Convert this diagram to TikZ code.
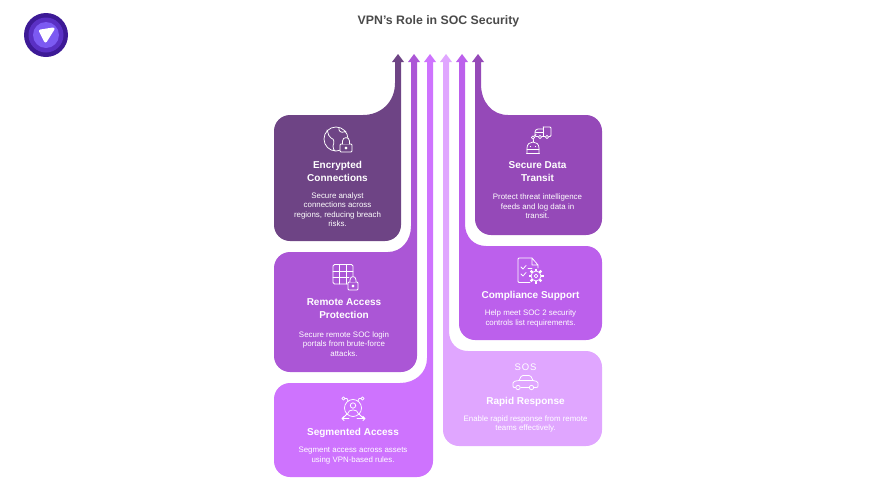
\documentclass[tikz,border=0pt]{standalone}
\usepackage{fontspec}
\setmainfont{Liberation Sans}
\newfontfamily\sosfont[LetterSpace=9]{Liberation Sans}
\usepackage{xcolor}
\definecolor{cardone}{HTML}{6E4485}
\definecolor{cardtwo}{HTML}{AB56D6}
\definecolor{cardthree}{HTML}{CE73FE}
\definecolor{cardfour}{HTML}{9549B8}
\definecolor{cardfive}{HTML}{BC60EC}
\definecolor{cardsix}{HTML}{E0A6FF}
\definecolor{titlegray}{HTML}{4A4A4A}
\definecolor{logoa}{HTML}{3D1A96}
\definecolor{logob}{HTML}{5A30C4}
\definecolor{logoc}{HTML}{7C5AF2}
\begin{document}
\begin{tikzpicture}[
		x=1pt,
		y=-1pt,
		heading/.style={
			text=white,
			align=center,
			inner sep=0pt,
			font=\bfseries\fontsize{10}{13}\selectfont
		},
		blurb/.style={
			text=white,
			align=center,
			inner sep=0pt,
			font=\fontsize{7.9}{9.5}\selectfont
		},
		icon/.style={
			draw=white,
			line width=0.75pt,
			line cap=round,
			line join=round
		}
		]
		\useasboundingbox (0,0) rectangle (876,493);
		
		% We start by placing the title and the logo
		\node [text=titlegray, inner sep=0pt, font=\bfseries\fontsize{12.3}{15}\selectfont] (title) at (438.5,21) {VPN's Role in SOC Security};
		
		\fill [logoa] (46,35) circle (22);
		\fill [logob] (46,35) circle (17.5);
		\fill [logoc] (46,35) circle (13);
		\fill [white, draw=white, line width=3pt, line join=round] (40.5,31) -- (53,29) -- (45.5,41) -- cycle;
		
		% The blocks with their arrows, left side
		\fill [cardone] (363,115) [rounded corners=16pt] -- (274,115) -- (274,241) -- (401,241) -- (401,200) [sharp corners]
			-- (401,62) -- (404,62) -- (398,54) -- (392,62) -- (395,62) -- (395,83)
			.. controls (395,102) and (381,115) .. (363,115) -- cycle;
		
		\fill [cardtwo] (388,252) [rounded corners=16pt] -- (274,252) -- (274,372) -- (417,372) -- (417,320) [sharp corners]
			-- (417,62) -- (420,62) -- (414,54) -- (408,62) -- (411,62) -- (411,226)
			.. controls (411,241) and (401,252) .. (388,252) -- cycle;
		
		\fill [cardthree] (400,383) [rounded corners=16pt] -- (274,383) -- (274,477) -- (433,477) -- (433,420) [sharp corners]
			-- (433,62) -- (436,62) -- (430,54) -- (424,62) -- (427,62) -- (427,358)
			.. controls (427,373) and (415,383) .. (400,383) -- cycle;
		
		% and the right side
		\fill [cardfour] (508,115) [rounded corners=16pt] -- (602,115) -- (602,235) -- (475,235) -- (475,180) [sharp corners]
			-- (475,62) -- (472,62) -- (478,54) -- (484,62) -- (481,62) -- (481,84)
			.. controls (481,102) and (492,115) .. (508,115) -- cycle;
		
		\fill [cardfive] (486,246) [rounded corners=16pt] -- (602,246) -- (602,340) -- (459,340) -- (459,300) [sharp corners]
			-- (459,62) -- (456,62) -- (462,54) -- (468,62) -- (465,62) -- (465,224)
			.. controls (465,237) and (474,246) .. (486,246) -- cycle;
		
		\fill [cardsix] (468,351) [rounded corners=16pt] -- (602,351) -- (602,446) -- (443,446) -- (443,400) [sharp corners]
			-- (443,62) -- (440,62) -- (446,54) -- (452,62) -- (449,62) -- (449,331)
			.. controls (449,343) and (457,351) .. (468,351) -- cycle;
		
		% Texts of the blocks
		\node [heading] (encrypted) at (337.5,171.5) {Encrypted\\Connections};
		\node [blurb] (encryptedtext) at (337.5,209.5) {Secure analyst\\connections across\\regions, reducing breach\\risks.};
		
		\node [heading] (remote) at (344,308.5) {Remote Access\\Protection};
		\node [blurb] (remotetext) at (344,344) {Secure remote SOC login\\portals from brute-force\\attacks.};
		
		\node [heading] (segmented) at (353,433) {Segmented Access};
		\node [blurb] (segmentedtext) at (353,455.5) {Segment access across assets\\using VPN-based rules.};
		
		\node [heading] (transit) at (537.5,171.5) {Secure Data\\Transit};
		\node [blurb] (transittext) at (537.5,206.5) {Protect threat intelligence\\feeds and log data in\\transit.};
		
		\node [heading] (compliance) at (530.5,296) {Compliance Support};
		\node [blurb] (compliancetext) at (530.5,318.5) {Help meet SOC 2 security\\controls list requirements.};
		
		\node [heading] (rapid) at (525.5,401.5) {Rapid Response};
		\node [blurb] (rapidtext) at (525.5,424) {Enable rapid response from remote\\teams effectively.};
		
		% Globe with lock
		\draw [icon] (336,139) circle (12);
		\draw [icon] (327,130) .. controls (329,134) and (328,137) .. (331,138) .. controls (335,139) and (334,143) .. (333,146) .. controls (333,149) and (334,150) .. (335,151);
		\draw [icon] (339,127.5) .. controls (338,131) and (341,133) .. (344,132) .. controls (345,131) and (346,131) .. (346,132);
		\draw [icon, fill=cardone, rounded corners=1pt] (340,144) rectangle (352,152);
		\draw [icon, fill=cardone] (342.5,144) -- (342.5,141) .. controls (342.5,136.5) and (349.5,136.5) .. (349.5,141) -- (349.5,144);
		\draw [icon] (346,148) circle (1);
		
		% Truck with robot
		\draw [icon, rounded corners=1pt] (543,127) -- (551,127) -- (551,136.5) -- (549,136.5) (545,136.5) -- (542,136.5) (538,136.5) -- (535,136.5) -- (535,131) -- (537,129) -- (543,129);
		\draw [icon] (543,127) -- (543,136.5);
		\draw [icon] (535.5,132.5) -- (543,132.5);
		\draw [icon] (540,137) circle (1.6) (547,137) circle (1.6);
		\draw [icon] (533,137.5) circle (1.6);
		\draw [icon] (534.5,136) -- (536,134.5);
		\draw [icon] (533,139.5) -- (533,142);
		\draw [icon] (526.5,153) -- (539.5,153) (527,149.5) -- (539,149.5);
		\draw [icon] (527,153) -- (527,148) .. controls (527,140) and (539,140) .. (539,148) -- (539,153);
		\fill [white] (530.5,146.5) circle (0.7) (535.5,146.5) circle (0.7);
		
		% Grid with lock
		\draw [icon, rounded corners=1.5pt] (348,284) -- (333,284) -- (333,264.5) -- (353,264.5) -- (353,279);
		\draw [icon] (333,271) -- (353,271) (333,277.5) -- (349,277.5);
		\draw [icon] (339.5,264.5) -- (339.5,284) (346,264.5) -- (346,284);
		\draw [icon, fill=cardtwo, rounded corners=1pt] (348,282) rectangle (358,290);
		\draw [icon, fill=cardtwo] (350,282) -- (350,280) .. controls (350,275.5) and (356,275.5) .. (356,280) -- (356,282);
		\draw [icon] (353,286) circle (1);
		
		% Document with gear
		\draw [icon, rounded corners=1pt] (532,258) -- (518,258) -- (518,282.5) -- (530,282.5);
		\draw [icon] (532,258) -- (538,265) -- (538,268) (532,258) -- (532,265) -- (538,265);
		\draw [icon] (521,267) -- (523,269) -- (526,265.5) (521,274) -- (523,276) -- (526,272.5);
		\draw [icon] (528,268) -- (532,268);
		\foreach \ang in {0,45,...,315}
			\draw [icon, line width=2.4pt, line cap=butt] (536,276) ++(\ang:5) -- ++(\ang:2.5);
		\draw [icon, fill=cardfive] (536,276) circle (5);
		\draw [icon] (536,276) circle (1.8);
		
		% Person with arrows
		\draw [icon] (353,408) circle (8.5);
		\draw [icon] (353,405.5) circle (2.7);
		\draw [icon] (347.5,414) .. controls (348,408.5) and (358,408.5) .. (358.5,414);
		\draw [icon] (343.5,398.5) circle (1.6) (362.5,398.5) circle (1.6);
		\draw [icon] (345,398.5) -- (347,398.5) -- (348,401);
		\draw [icon] (361,398.5) -- (359,398.5) -- (358,401);
		\draw [icon] (347,414) -- (343,418) (342,418.5) -- (349,418.5) (342,418.5) -- (344,416.5) (342,418.5) -- (344,420.5);
		\draw [icon] (359,414) -- (363,418) (365,418.5) -- (357,418.5) (365,418.5) -- (363,416.5) (365,418.5) -- (363,420.5);
		
		% SOS with car
		\node [text=white, inner sep=0pt, font=\sosfont\fontsize{9.5}{10}\selectfont] (sos) at (525.5,367) {SOS};
		\draw [icon] (515.5,387.5) -- (514,387.5) .. controls (513,387.5) and (513,386) .. (513,385) -- (513,383) .. controls (513,381.5) and (515,381) .. (519,380.5) -- (521,376.5) .. controls (521.5,375.5) and (522,375.5) .. (523,375.5) -- (529,375.5) .. controls (530,375.5) and (530.5,375.5) .. (531,376.5) -- (533,380.5) .. controls (536,381) and (538,381.5) .. (538,383) -- (538,386) .. controls (538,387) and (537.5,387.5) .. (536,387.5) -- (534,387.5);
		\draw [icon] (519,380.5) -- (533,380.5);
		\draw [icon] (521,387.5) -- (529,387.5);
		\draw [icon] (518,387.5) circle (2.2) (531.5,387.5) circle (2.2);
		
		\end{tikzpicture}
\end{document}
